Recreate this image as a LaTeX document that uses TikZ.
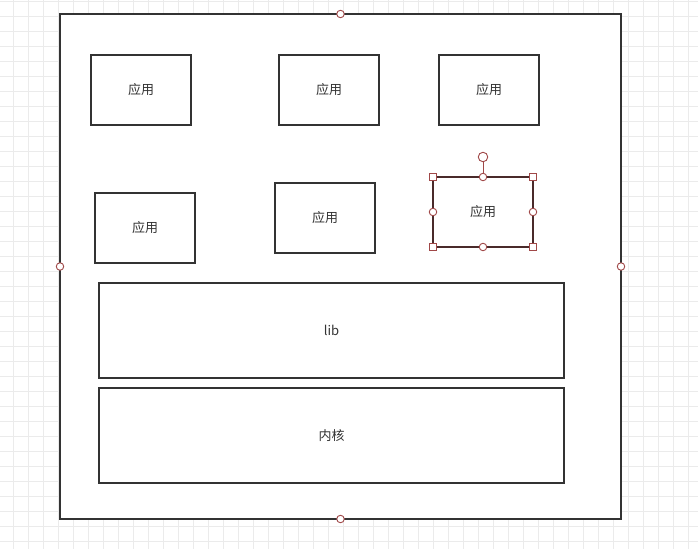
\documentclass[tikz,border=0pt]{standalone}
\usepackage{fontspec}
\newfontfamily\cjk{Noto Sans CJK SC}
\definecolor{gridc}{HTML}{EBEBEB}
\definecolor{boxc}{HTML}{333333}
\definecolor{selc}{HTML}{4A2A2A}
\definecolor{handc}{HTML}{A04848}
\tikzset{
  box/.style={draw=boxc, line width=1.6pt, fill=white, inner sep=0pt, outer sep=0pt,
    minimum width=100pt, minimum height=70pt, font=\cjk\fontsize{13}{13}\selectfont, text=boxc},
  wide/.style={box, minimum width=465pt, minimum height=95pt},
  selbox/.style={box, draw=selc},
  hcirc/.style={circle, draw=handc, fill=white, line width=0.9pt, minimum size=7.5pt, inner sep=0pt},
  hrot/.style={hcirc, minimum size=9.5pt},
  hsq/.style={rectangle, draw=handc, fill=white, line width=0.9pt, minimum size=7pt, inner sep=0pt},
}
\begin{document}
\begin{tikzpicture}[x=1pt,y=-1pt]
\useasboundingbox (0,0) rectangle (698,549);
\fill[white] (0,0) rectangle (698,549);
% grid
\foreach \gx in {13.3,28.3,...,698} {\draw[gridc, line width=0.8pt] (\gx,0) -- (\gx,549);}
\foreach \gy in {1.7,16.7,...,549} {\draw[gridc, line width=0.8pt] (0,\gy) -- (698,\gy);}
% outer
\node[box, minimum width=561pt, minimum height=505pt] (outer) at (340.5,266.5) {};
% app boxes
\node[box] (a1) at (141,90) {应用};
\node[box] (a2) at (329,90) {应用};
\node[box] (a3) at (489,90) {应用};
\node[box] (a4) at (145,228) {应用};
\node[box] (a5) at (325,218) {应用};
\node[selbox] (a6) at (483,212) {应用};
\node[wide] (lib) at (331.5,330.5) {lib};
\node[wide] (kern) at (331.5,435.5) {内核};
% outer handles
\node[hcirc] (oh1) at (outer.north) {};
\node[hcirc] (oh2) at (outer.west) {};
\node[hcirc] (oh3) at (outer.east) {};
\node[hcirc] (oh4) at (outer.south) {};
% selection handles
\node[hrot] (rot) at (483,157) {};
\draw[handc, line width=0.9pt] (rot) -- (a6.north);
\node[hsq] (s1) at (a6.north west) {};
\node[hsq] (s2) at (a6.north east) {};
\node[hsq] (s3) at (a6.south west) {};
\node[hsq] (s4) at (a6.south east) {};
\node[hcirc] (c1) at (a6.north) {};
\node[hcirc] (c2) at (a6.south) {};
\node[hcirc] (c3) at (a6.west) {};
\node[hcirc] (c4) at (a6.east) {};
\end{tikzpicture}
\end{document}
